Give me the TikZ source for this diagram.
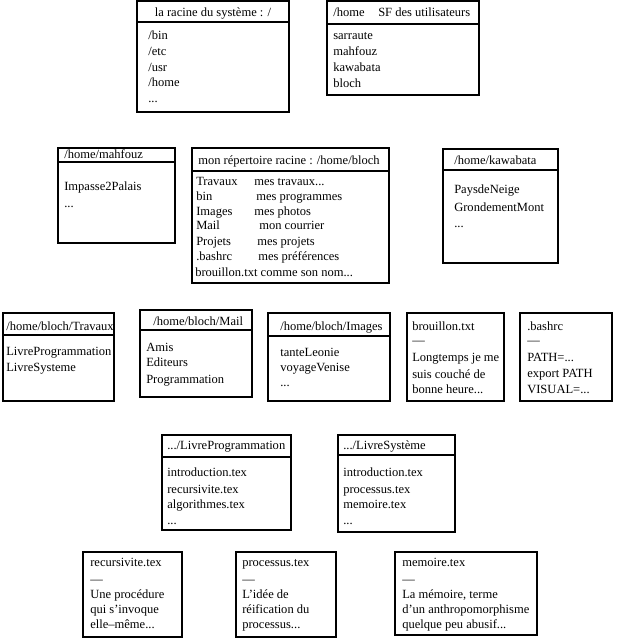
\documentclass[tikz,border=0pt]{standalone}
\usepackage{fontspec}
\setmainfont{Liberation Serif}
\newcommand\mytext[4]{\node[txt] (#1) at (#2,#3) {#4};}
\begin{document}
\begin{tikzpicture}[x=0.75pt,y=-0.75pt,
  boxline/.style={draw=black,line width=0.8pt},
  headline/.style={draw=black,line width=0.8pt},
  txt/.style={anchor=base west,inner sep=0pt,font=\fontsize{9.4}{11}\selectfont}]
\useasboundingbox (0,0) rectangle (619,640);
% ---------------- root
\draw[boxline] (137,1) rectangle (289,112);
\draw[black,line width=1.7pt] (137,22) -- (289,22);
\node[txt,anchor=base] (rootH) at (213,16) {la racine du système : /};
\mytext{r1}{148}{39}{/bin}
\mytext{r2}{148}{55}{/etc}
\mytext{r3}{148}{71}{/usr}
\mytext{r4}{148}{86}{/home}
\mytext{r5}{148}{102}{...}
% ---------------- /home
\draw[boxline] (327,1) rectangle (479,95);
\draw[headline] (327,24) -- (479,24);
\mytext{hH1}{333}{16}{/home}
\mytext{hH2}{378}{16}{SF des utilisateurs}
\mytext{h1}{333}{39}{sarraute}
\mytext{h2}{333}{55}{mahfouz}
\mytext{h3}{333}{71}{kawabata}
\mytext{h4}{333}{87}{bloch}
% ---------------- mahfouz
\draw[boxline] (58,148) rectangle (175,243);
\draw[headline] (58,162) -- (175,162);
\mytext{mH}{64}{158}{/home/mahfouz}
\mytext{m1}{64}{190}{Impasse2Palais}
\mytext{m2}{64}{207}{...}
% ---------------- bloch
\draw[boxline] (192,148) rectangle (389,283);
\draw[headline] (192,171) -- (389,171);
\mytext{bH}{198}{164}{mon répertoire racine : /home/bloch}
\mytext{b1}{196}{185}{Travaux}
\mytext{b2}{196}{200}{bin}
\mytext{b3}{196}{215}{Images}
\mytext{b4}{196}{229}{Mail}
\mytext{b5}{196}{245}{Projets}
\mytext{b6}{196}{260}{.bashrc}
\mytext{b7}{195}{276}{brouillon.txt comme son nom...}
\mytext{c1}{254}{185}{mes travaux...}
\mytext{c2}{256}{200}{mes programmes}
\mytext{c3}{254}{215}{mes photos}
\mytext{c4}{259}{229}{mon courrier}
\mytext{c5}{257}{245}{mes projets}
\mytext{c6}{258}{260}{mes préférences}
% ---------------- kawabata
\draw[boxline] (443,149) rectangle (558,263);
\draw[headline] (443,170) -- (558,170);
\mytext{kH}{454}{164}{/home/kawabata}
\mytext{k1}{454}{193}{PaysdeNeige}
\mytext{k2}{454}{211}{GrondementMont}
\mytext{k3}{454}{227}{...}
% ---------------- Travaux
\draw[boxline] (3,313) rectangle (114,401);
\draw[headline] (3,335) -- (114,335);
\mytext{tH}{6}{330}{/home/bloch/Travaux}
\mytext{t1}{6}{355}{LivreProgrammation}
\mytext{t2}{6}{371}{LivreSysteme}
% ---------------- Mail
\draw[boxline] (140,310) rectangle (252,397);
\draw[headline] (140,330) -- (252,330);
\mytext{aH}{153}{325}{/home/bloch/Mail}
\mytext{a1}{146}{351}{Amis}
\mytext{a2}{146}{366}{Editeurs}
\mytext{a3}{146}{383}{Programmation}
% ---------------- Images
\draw[boxline] (268,313) rectangle (390,401);
\draw[headline] (268,336) -- (390,336);
\mytext{iH}{280}{330}{/home/bloch/Images}
\mytext{i1}{280}{356}{tanteLeonie}
\mytext{i2}{280}{371}{voyageVenise}
\mytext{i3}{280}{386}{...}
% ---------------- brouillon
\draw[boxline] (407,313) rectangle (504,401);
\mytext{bt0}{412}{330}{brouillon.txt}
\mytext{bt1}{412}{344}{—}
\mytext{bt2}{412}{361}{Longtemps je me}
\mytext{bt3}{412}{378}{suis couché de}
\mytext{bt4}{412}{393}{bonne heure...}
% ---------------- bashrc
\draw[boxline] (520,313) rectangle (612,401);
\mytext{bs0}{527}{330}{.bashrc}
\mytext{bs1}{527}{344}{—}
\mytext{bs2}{527}{361}{PATH=...}
\mytext{bs3}{527}{377}{export PATH}
\mytext{bs4}{527}{393}{VISUAL=...}
% ---------------- LivreProgrammation
\draw[boxline] (162,435) rectangle (291,530);
\draw[headline] (162,457) -- (291,457);
\mytext{lpH}{167}{449}{.../LivreProgrammation}
\mytext{lp1}{167}{476}{introduction.tex}
\mytext{lp2}{167}{493}{recursivite.tex}
\mytext{lp3}{167}{508}{algorithmes.tex}
\mytext{lp4}{167}{524}{...}
% ---------------- LivreSysteme
\draw[boxline] (338,435) rectangle (455,532);
\draw[headline] (338,455) -- (455,455);
\mytext{lsH}{343}{449}{.../LivreSystème}
\mytext{ls1}{343}{476}{introduction.tex}
\mytext{ls2}{343}{493}{processus.tex}
\mytext{ls3}{343}{508}{memoire.tex}
\mytext{ls4}{343}{524}{...}
% ---------------- recursivite
\draw[boxline] (83,552) rectangle (182,637);
\mytext{rc0}{90}{566}{recursivite.tex}
\mytext{rc1}{90}{583}{—}
\mytext{rc2}{90}{598}{Une procédure}
\mytext{rc3}{90}{613}{qui s'invoque}
\mytext{rc4}{90}{628}{elle–même...}
% ---------------- processus
\draw[boxline] (236,552) rectangle (336,637);
\mytext{pc0}{242}{566}{processus.tex}
\mytext{pc1}{242}{583}{—}
\mytext{pc2}{242}{598}{L'idée de}
\mytext{pc3}{242}{613}{réification du}
\mytext{pc4}{242}{628}{processus...}
% ---------------- memoire
\draw[boxline] (395,552) rectangle (537,635);
\mytext{me0}{402}{566}{memoire.tex}
\mytext{me1}{402}{583}{—}
\mytext{me2}{402}{598}{La mémoire, terme}
\mytext{me3}{402}{613}{d'un anthropomorphisme}
\mytext{me4}{402}{628}{quelque peu abusif...}
\end{tikzpicture}
\end{document}
